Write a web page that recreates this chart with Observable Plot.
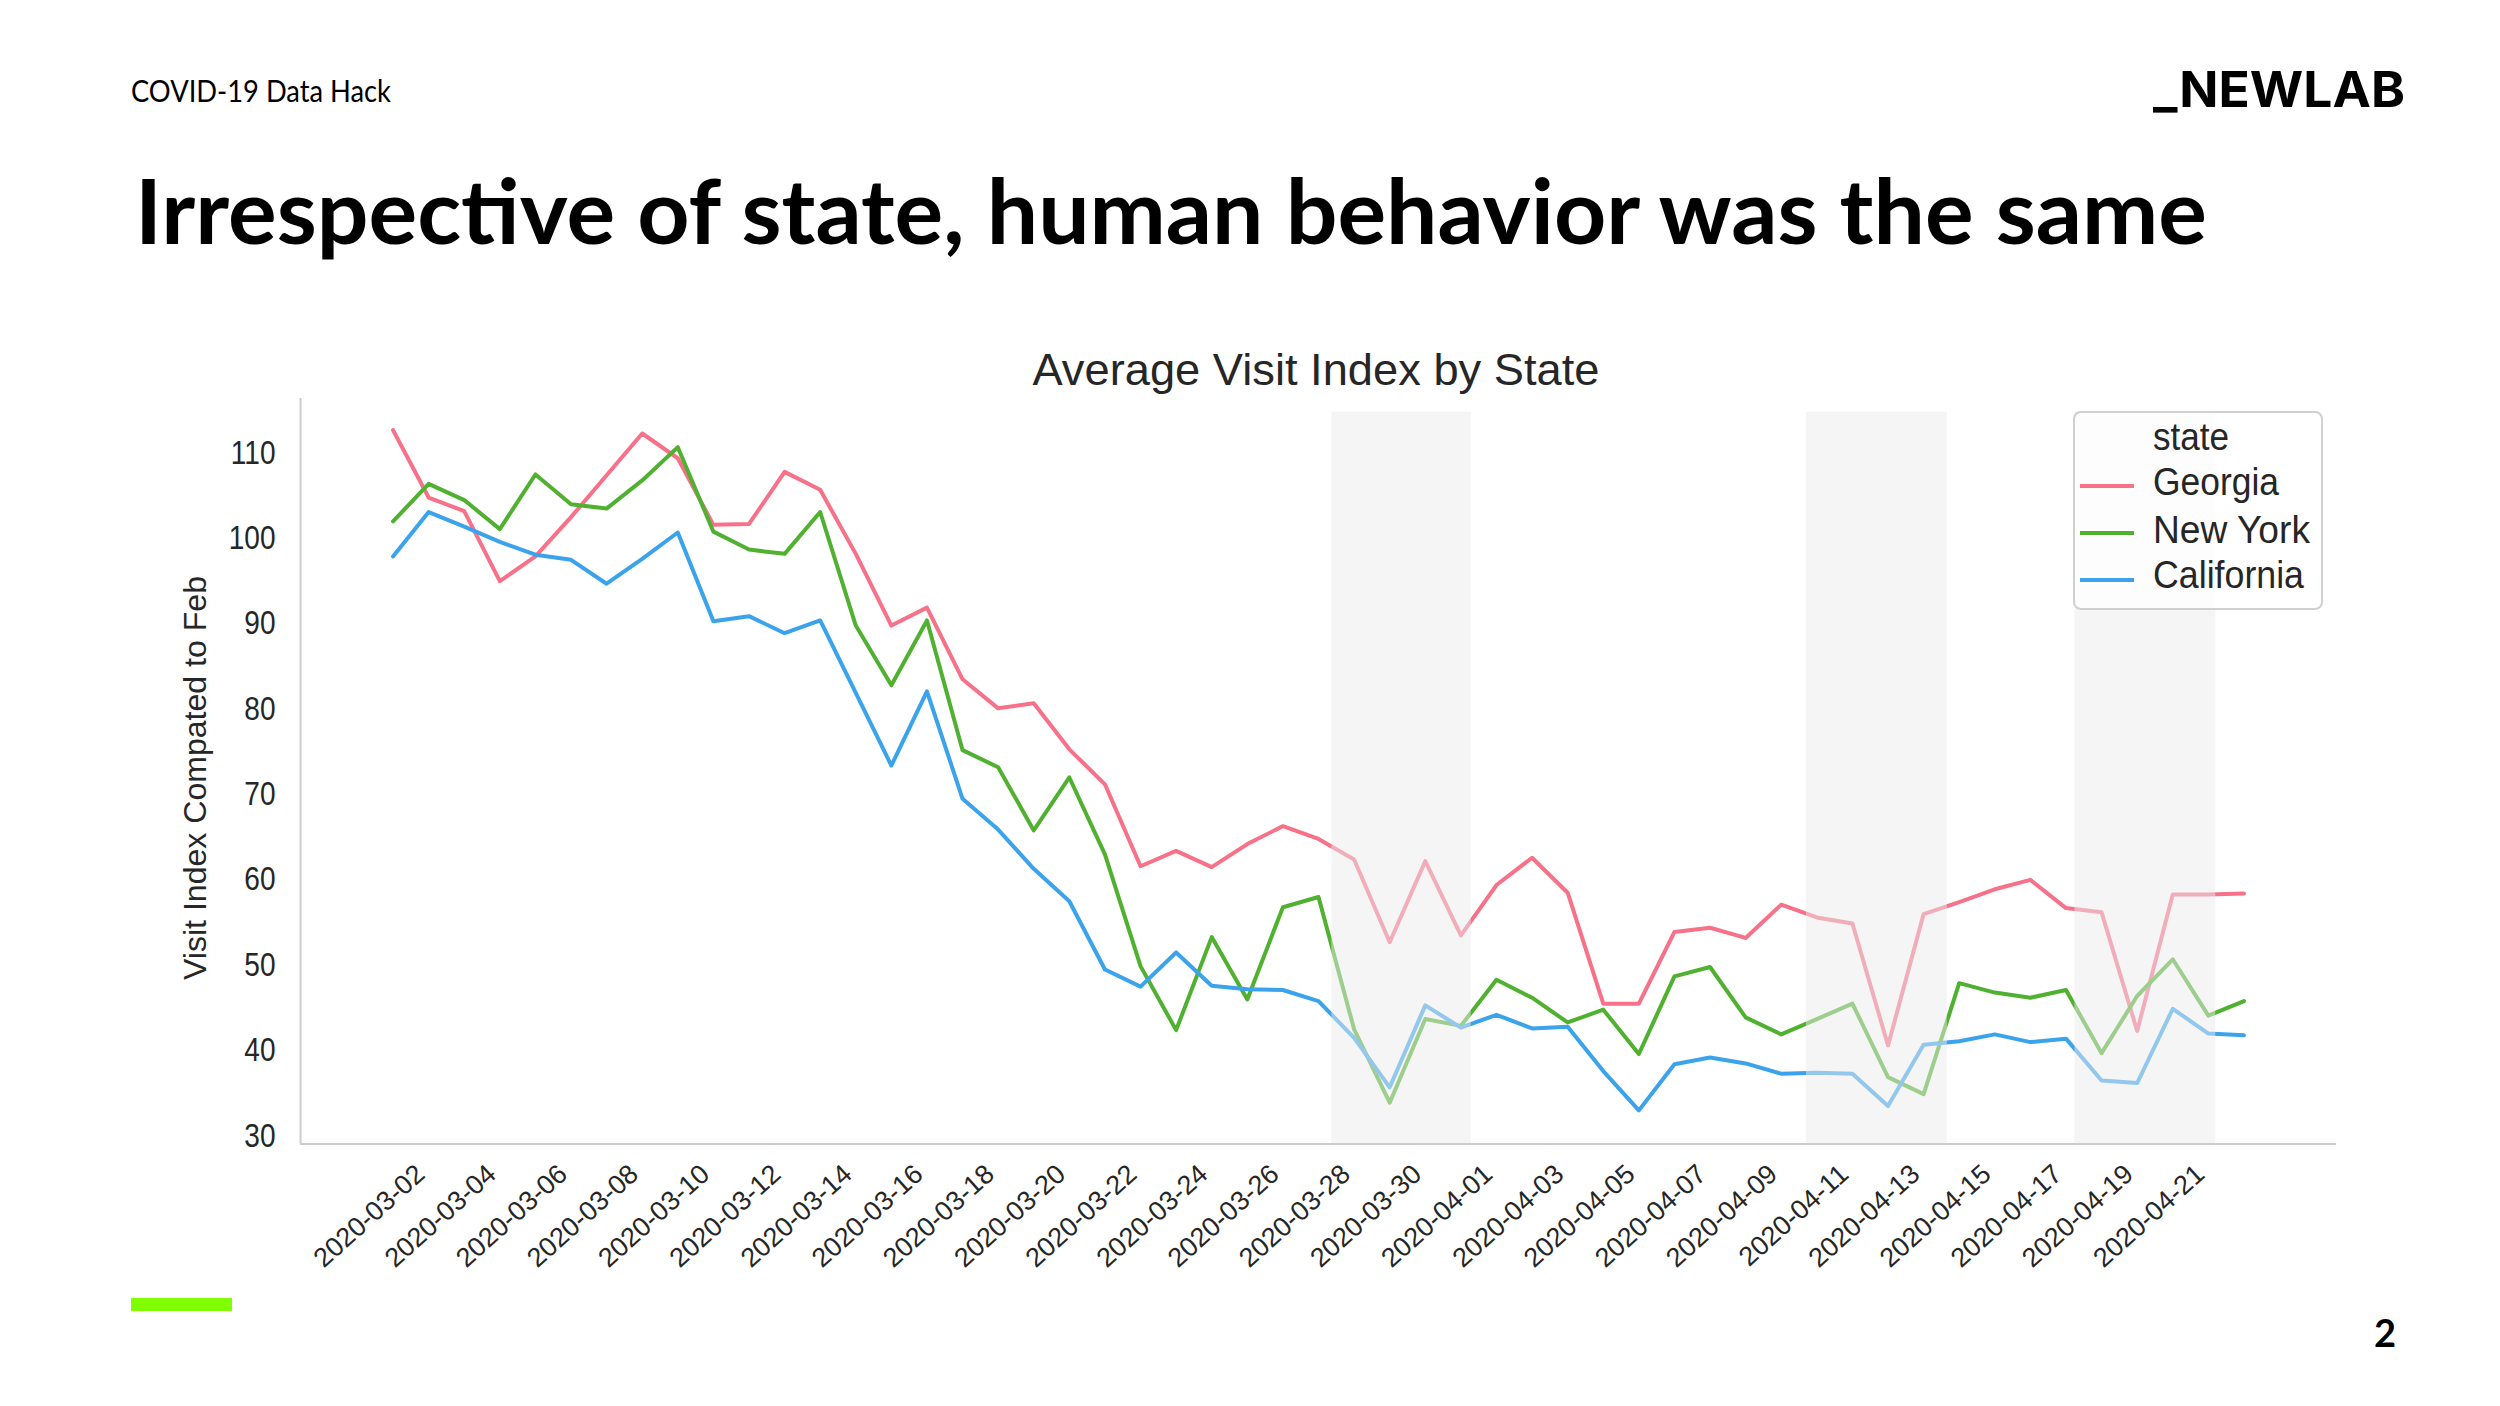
<!DOCTYPE html>
<html><head><meta charset="utf-8">
<script src="https://cdn.jsdelivr.net/npm/d3@7"></script>
<script src="https://cdn.jsdelivr.net/npm/@observablehq/plot@0.6"></script>
<style>
html,body{margin:0;padding:0;background:#fff;}
#page{position:relative;width:2500px;height:1406px;overflow:hidden;background:#fff;}
#chart{position:absolute;left:0;top:376px;}
#deco{position:absolute;left:0;top:0;pointer-events:none;}
</style></head><body>
<div id="page">
  <div id="chart"></div>
  <svg id="deco" width="2500" height="1406"></svg>
</div>
<script>
// ---------- data ----------
const states = ["Georgia", "New York", "California"];
const colors = ["#f77189", "#50b131", "#3ba3ec"];
const dates = d3.utcDay.range(new Date("2020-03-01"), new Date("2020-04-23"));

const georgia = [
  112.7, 104.8, 103.2, 95.0, 97.9, 102.5, 107.4, 112.3, 109.4, 101.6, 101.7, 107.8, 105.7, 98.2, 89.8, 91.9,
  83.5, 80.1, 80.7, 75.3, 71.2, 61.6, 63.4, 61.5, 64.2, 66.3, 64.8, 62.4, 52.7, 62.2, 53.5, 59.4, 62.6, 58.5, 45.5, 45.5,
  53.9, 54.4, 53.2, 57.1, 55.6, 54.9, 40.6, 56.0, 57.4, 58.9, 60.0, 56.7, 56.2, 42.3, 58.3, 58.3, 58.4
];
const newYork = [
  102.0, 106.4, 104.5, 101.1, 107.5, 104.0, 103.5, 106.8, 110.7, 100.8, 98.7, 98.2, 103.1, 89.8, 82.8, 90.4,
  75.2, 73.2, 65.8, 72.0, 63.0, 49.9, 42.4, 53.3, 46.0, 56.8, 58.0, 42.5, 33.9, 43.7, 42.9, 48.3, 46.2, 43.3, 44.8, 39.6,
  48.7, 49.8, 43.9, 41.9, 43.7, 45.5, 36.9, 34.9, 47.9, 46.8, 46.2, 47.1, 39.7, 46.4, 50.7, 44.1, 45.8
];
const california = [
  97.9, 103.1, 101.4, 99.6, 98.1, 97.5, 94.7, 97.6, 100.7, 90.3, 90.9, 88.9, 90.4, 81.9, 73.4, 82.1,
  69.5, 65.9, 61.3, 57.5, 49.5, 47.5, 51.5, 47.6, 47.2, 47.1, 45.8, 41.5, 35.7, 45.3, 42.7, 44.2, 42.6, 42.8, 37.6, 33.0,
  38.4, 39.2, 38.5, 37.3, 37.4, 37.3, 33.5, 40.7, 41.1, 41.9, 41.0, 41.4, 36.5, 36.2, 44.9, 42.0, 41.8
];
const bandStarts = ["2020-03-27T09:00Z", "2020-04-09T17:00Z", "2020-04-17T06:00Z"];
const bandEnds   = ["2020-03-31T07:00Z", "2020-04-13T16:00Z", "2020-04-21T05:00Z"];
const tickLabels = [
  "2020-03-02","2020-03-04","2020-03-06","2020-03-08","2020-03-10","2020-03-12","2020-03-14",
  "2020-03-16","2020-03-18","2020-03-20","2020-03-22","2020-03-24","2020-03-26","2020-03-28",
  "2020-03-30","2020-04-01","2020-04-03","2020-04-05","2020-04-07","2020-04-09","2020-04-11",
  "2020-04-13","2020-04-15","2020-04-17","2020-04-19","2020-04-21"
];
const yTicks = [30, 40, 50, 60, 70, 80, 90, 100, 110];
const yMin = 29.06, yMax = 116.4, bandTop = 114.8, padDays = 2.6;

// ---------- build tables ----------
const seriesValues = [georgia, newYork, california];
const rows = [];
states.forEach((s, k) => seriesValues[k].forEach((v, i) => rows.push({state: s, date: dates[i], value: v})));
const bands = bandStarts.map((s, i) => ({start: new Date(s), end: new Date(bandEnds[i])}));
const xMin = new Date(+dates[0] - padDays * 864e5);
const xMax = new Date(+dates[dates.length - 1] + padDays * 864e5);
const fmt = d3.utcFormat("%Y-%m-%d");

const chart = Plot.plot({
  width: 2500, height: 900,
  marginLeft: 300, marginRight: 164, marginTop: 22, marginBottom: 132.5,
  style: {fontFamily: "'Liberation Sans', Arial, sans-serif", color: "#262626", background: "transparent"},
  x: {type: "utc", domain: [xMin, xMax]},
  y: {domain: [yMin, yMax]},
  color: {domain: states, range: colors},
  marks: [
    Plot.line(rows, {x: "date", y: "value", z: "state", stroke: "state", strokeWidth: 4, strokeLinejoin: "round"}),
    Plot.rect(bands, {x1: "start", x2: "end", y1: yMin, y2: bandTop, fill: "#ebebeb", fillOpacity: 0.5}),
    Plot.ruleX([xMin], {stroke: "#cccccc", strokeWidth: 2}),
    Plot.ruleY([yMin], {stroke: "#cccccc", strokeWidth: 2}),
    Plot.axisY({ticks: yTicks, tickSize: 0, tickPadding: 25, fontSize: 33, label: null, tickFormat: d => String(d)}),
    Plot.axisX({ticks: tickLabels.map(s => new Date(s)), tickSize: 0, tickPadding: 26, tickRotate: -42,
                fontSize: 27, dx: -8, label: null, tickFormat: fmt})
  ]
});
document.getElementById("chart").appendChild(chart);
// horizontal squeeze of the y tick labels, as in the reference
chart.querySelectorAll('g[aria-label="y-axis tick label"] text').forEach(t => {
  const tr = t.getAttribute("transform");
  if (tr) t.setAttribute("transform", tr + " scale(0.85,1)");
});

// ---------- page decoration ----------
const deco = d3.select("#deco");
function txt(s, o) {
  const t = deco.append("text").text(s)
    .attr("x", o.x).attr("y", o.y)
    .attr("font-family", o.family || "Lato, sans-serif")
    .attr("font-size", o.size).attr("font-weight", o.weight || 400)
    .attr("fill", o.fill || "#000");
  if (o.anchor) t.attr("text-anchor", o.anchor);
  if (o.len) t.attr("textLength", o.len).attr("lengthAdjust", "spacingAndGlyphs");
  if (o.rotate) t.attr("transform", `rotate(${o.rotate},${o.x},${o.y})`);
  return t;
}
txt("COVID-19 Data Hack", {x: 131, y: 102, size: 30, len: 260});
txt("Irrespective of state, human behavior was the same", {x: 135, y: 244, size: 90, weight: 700, len: 2072});
txt("_NEWLAB", {x: 2153, y: 107, size: 50, weight: 700, family: "Inter, sans-serif", len: 252});
txt("2", {x: 2374, y: 1347, size: 38, weight: 700});
deco.append("rect").attr("x", 131).attr("y", 1298).attr("width", 101).attr("height", 13).attr("fill", "#80ff00");

const cf = "'Liberation Sans', Arial, sans-serif";
txt("Average Visit Index by State", {x: 1316, y: 385, size: 44, family: cf, fill: "#262626", anchor: "middle", len: 567});
txt("Visit Index Compated to Feb", {x: 206, y: 778, size: 32, family: cf, fill: "#262626", anchor: "middle", len: 404, rotate: -90});

// legend
deco.append("rect").attr("x", 2074).attr("y", 412).attr("width", 248).attr("height", 197).attr("rx", 7)
  .attr("fill", "#fff").attr("fill-opacity", 0.8).attr("stroke", "#d0d0d0").attr("stroke-width", 2);
txt("state", {x: 2153, y: 450, size: 38, family: cf, fill: "#262626", len: 76});
const legY = [495, 543, 588], swY = [486, 533, 580], legLen = [126, 157, 151];
states.forEach((s, i) => {
  deco.append("line").attr("x1", 2080).attr("x2", 2134).attr("y1", swY[i]).attr("y2", swY[i])
    .attr("stroke", colors[i]).attr("stroke-width", 4);
  txt(s, {x: 2153, y: legY[i], size: 38, family: cf, fill: "#262626", len: legLen[i]});
});
</script>
</body></html>
